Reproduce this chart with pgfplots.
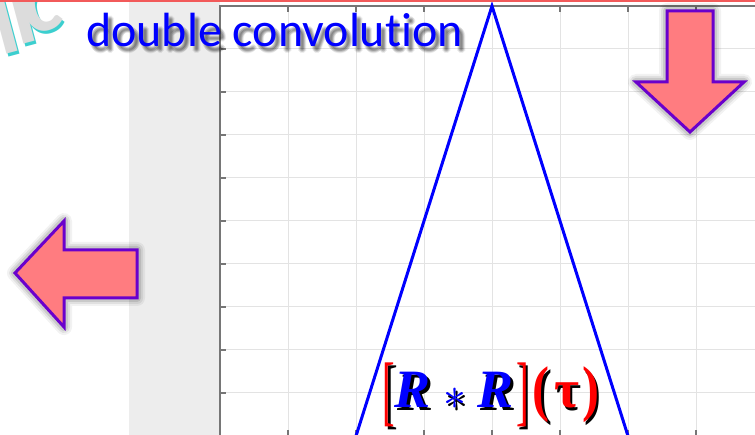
\documentclass[border=0pt]{standalone}
\usepackage{pgfplots}
\pgfplotsset{compat=1.18}
\usepackage{fontspec}
\setmainfont{Liberation Serif}
\newfontfamily\carlito[Ligatures={NoCommon}]{Carlito}
\newfontfamily\tnr{Liberation Serif}
\definecolor{slidered}{HTML}{F25A5A}
\definecolor{figgray}{HTML}{EDEDED}
\definecolor{gridc}{HTML}{E3E3E3}
\definecolor{axisc}{HTML}{767676}
\definecolor{arrowfill}{HTML}{FF7C80}
\definecolor{arrowline}{HTML}{6A00CC}
\definecolor{wmgray}{HTML}{DCDCDC}
\definecolor{wmcyan}{HTML}{3CCFCF}
\definecolor{pureblue}{RGB}{0,0,255}
\definecolor{purered}{RGB}{255,0,0}

\def\gLB{\resizebox*{12.5pt}{64pt}{[}}
\def\gRB{\resizebox*{12.5pt}{64pt}{]}}
\def\gLP{\resizebox*{17pt}{56pt}{\bfseries(}}
\def\gRP{\resizebox*{17pt}{56pt}{\bfseries)}}
\def\gR{\bfseries\itshape R}
\def\gT{\bfseries τ}
\def\gS{\resizebox{23pt}{!}{$\ast$}}

\begin{document}
\begin{tikzpicture}[x=1pt,y=1pt]
\path[use as bounding box] (0,0) rectangle (755,-435);
\clip (0,0) rectangle (755,-435);
\fill[white] (0,0) rectangle (755,-435);
\fill[figgray] (129,0) rectangle (220,-435);

% watermark (letters placed one by one)
\begin{scope}[every node/.style={inner sep=0, anchor=base, rotate=15, font=\carlito\bfseries\fontsize{92}{92}\selectfont}]
\foreach \c/\dx/\dy in {wmcyan/2.5/-3,wmgray/0/0}{
  \node[text=\c] at (12+\dx,-53+\dy) {l};
  \node[text=\c] at (29+\dx,-43+\dy) {i};
  \node[text=\c] at (47+\dx,-31+\dy) {c};
}
\end{scope}

\begin{axis}[
  anchor=south west, at={(220pt,-436pt)},
  x=68pt, y=430pt,
  xmin=-4, xmax=5, ymin=0, ymax=1,
  xtick={-4,-3,-2,-1,0,1,2,3,4,5},
  ytick={0,0.1,0.2,0.3,0.4,0.5,0.6,0.7,0.8,0.9,1},
  xticklabels={}, yticklabels={},
  grid=major,
  major grid style={gridc, line width=1pt},
  axis line style={axisc, line width=1.5pt},
  major tick style={axisc, line width=1.5pt},
  major tick length=6pt,
  tick align=inside,
  xtick pos=both, ytick pos=both,
  axis background/.style={fill=white},
  clip=false,
]
\addplot[pureblue, line width=3pt, line join=miter, mark=none] coordinates {(-2,0) (0,1) (2,0)};
\end{axis}

% slide top line
\fill[slidered] (0,0) rectangle (755,-1.8);

% title with soft shadow
\foreach \dx/\dy in {3/-4,5/-4,3/-6,5/-6,4/-5,2/-5,6/-5,4/-3,4/-7}{
  \node[anchor=base west, inner sep=0, text=black, opacity=0.07, font=\carlito\fontsize{48}{48}\selectfont] at (86+\dx,-47+\dy) {double convolution};
}
\node[anchor=base west, inner sep=0, text=pureblue, font=\carlito\fontsize{48}{48}\selectfont] at (86,-47) {double convolution};

% arrows with glow
\def\leftarrowpath{(15,-273) -- (64,-221) -- (64,-250) -- (137,-250) -- (137,-298) -- (64,-298) -- (64,-327) -- cycle}
\def\downarrowpath{(667,-11) -- (713,-11) -- (713,-82) -- (744,-82) -- (690,-132) -- (636,-82) -- (667,-82) -- cycle}
\foreach \w/\o in {16/0.05,12/0.07,8/0.1}{
  \draw[black, opacity=\o, line width=\w pt, line join=round] \leftarrowpath;
  \draw[black, opacity=\o, line width=\w pt, line join=round] \downarrowpath;
}
\draw[arrowline, fill=arrowfill, line width=3pt, line join=miter] \leftarrowpath;
\draw[arrowline, fill=arrowfill, line width=3pt, line join=miter] \downarrowpath;

% formula [R*R](tau), black shadow first
\begin{scope}[every node/.style={inner sep=0, font=\tnr\fontsize{54}{54}\selectfont}]
\foreach \s/\dx/\dy in {0/2.5/-2.5,1/0/0}{
  \ifnum\s=0 \def\cb{black}\def\cr{black}\else\def\cb{pureblue}\def\cr{purered}\fi
  \node[anchor=center, text=\cr] at (389+\dx,-395+\dy) {\gLB};
  \node[anchor=base, text=\cb] at (413+\dx,-408+\dy) {\gR};
  \node[anchor=center, text=\cb] at (454.5+\dx,-399+\dy) {\gS};
  \node[anchor=base, text=\cb] at (496+\dx,-408+\dy) {\gR};
  \node[anchor=center, text=\cr] at (522.5+\dx,-395+\dy) {\gRB};
  \node[anchor=center, text=\cr] at (541+\dx,-395+\dy) {\gLP};
  \node[anchor=base, text=\cr] at (566.5+\dx,-408+\dy) {\gT};
  \node[anchor=center, text=\cr] at (590.5+\dx,-395+\dy) {\gRP};
}
\end{scope}
\end{tikzpicture}
\end{document}
